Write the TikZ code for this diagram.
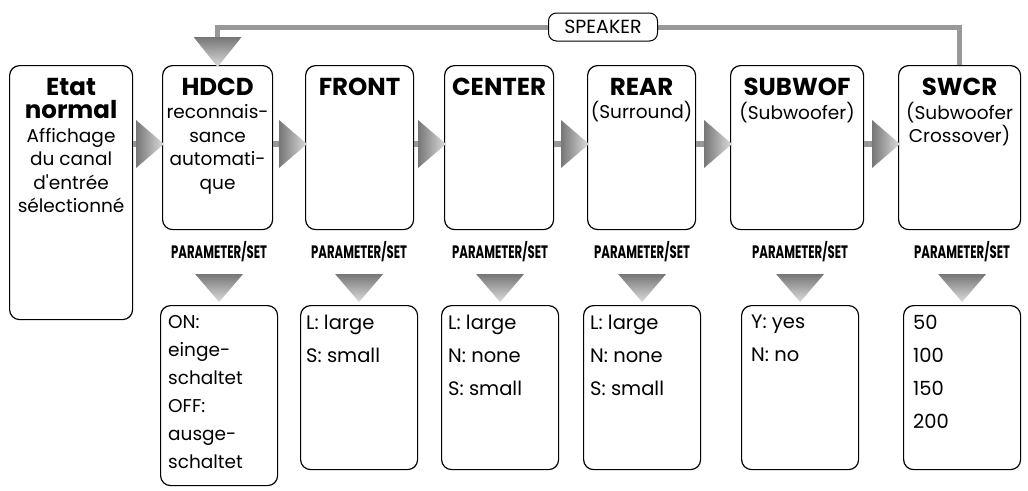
\documentclass[tikz,border=0pt]{standalone}
\usepackage{fontspec}
\usepackage{graphicx}
\setmainfont{Poppins}
\usetikzlibrary{calc}
\definecolor{lg}{RGB}{152,152,152}
\definecolor{tdark}{RGB}{118,118,118}
\definecolor{tlight}{RGB}{220,220,220}
\newcommand\HeadW[1]{{\fontsize{24.5}{23.5}\selectfont\bfseries #1}}
\newcommand\ParSetLbl{\scalebox{0.65}[1]{\fontsize{18}{18}\selectfont\bfseries PARAMETER/SET}}
\newcommand\DownArr[1]{\shade[top color=tdark,bottom color=tlight] ($(#1.north)+(0,-3)$) -- ++(-24,-28) -- ++(48,0) -- cycle;}
\newcommand\RightArr[2]{%
  \coordinate (T#2) at ($(#2.north west)+(2,79)$);
  \draw[conn,line width=6pt] (#1.east |- T#2) -- ++(10,0);
  \shade[left color=tdark,right color=tlight] (T#2) -- ++(-28,-24) -- ++(0,48) -- cycle;}
\begin{document}
\begin{tikzpicture}[x=1pt,y=-1pt,
  box/.style={draw=black,line width=1.2pt,rounded corners=10pt,inner sep=0pt,anchor=north west},
  headtxt/.style={anchor=north,inner sep=0pt,align=center,font=\fontsize{18.5}{23.4}\selectfont},
  opttxt/.style={anchor=north west,inner sep=0pt,align=left,font=\fontsize{19.5}{33}\selectfont},
  parlbl/.style={inner sep=0pt},
  conn/.style={draw=lg,line width=5pt,line cap=butt,line join=miter},
]
\useasboundingbox (0,0) rectangle (1028,490);

% top boxes
\node[box,minimum width=123pt,minimum height=254pt] (etat) at (9,65) {};
\node[box,minimum width=110pt,minimum height=164pt] (hdcd) at (162,65) {};
\node[box,minimum width=108pt,minimum height=164pt] (front) at (305,65) {};
\node[box,minimum width=109pt,minimum height=164pt] (center) at (444,65) {};
\node[box,minimum width=108pt,minimum height=164pt] (rear) at (587,65) {};
\node[box,minimum width=133pt,minimum height=164pt] (subwof) at (730,65) {};
\node[box,minimum width=122pt,minimum height=164pt] (swcr) at (898,65) {};

% lower boxes
\node[box,minimum width=117pt,minimum height=180pt] (hdcdP) at (160,305) {};
\node[box,minimum width=117pt,minimum height=164pt] (frontP) at (300,305) {};
\node[box,minimum width=117pt,minimum height=164pt] (centerP) at (441,305) {};
\node[box,minimum width=117pt,minimum height=164pt] (rearP) at (583,305) {};
\node[box,minimum width=117pt,minimum height=164pt] (subwofP) at (741,305) {};
\node[box,minimum width=117pt,minimum height=164pt] (swcrP) at (903,305) {};

% top texts
\node[headtxt] (etatT) at ($(etat.north)+(0,13)$) {\HeadW{Etat}\\\HeadW{normal}\\Affichage\\du canal\\d\textquotesingle entrée\\sélectionné};
\node[headtxt] (hdcdT) at ($(hdcd.north)+(0,13)$) {\HeadW{HDCD}\\reconnais-\\sance\\automati-\\que};
\node[headtxt] (frontT) at ($(front.north)+(0,13)$) {\HeadW{FRONT}};
\node[headtxt] (centerT) at ($(center.north)+(0,13)$) {\HeadW{CENTER}};
\node[headtxt] (rearT) at ($(rear.north)+(0,13)$) {\HeadW{REAR}\\(Surround)};
\node[headtxt] (subwofT) at ($(subwof.north)+(0,13)$) {\HeadW{SUBWOF}\\(Subwoofer)};
\node[headtxt] (swcrT) at ($(swcr.north)+(0,13)$) {\HeadW{SWCR}\\(Subwoofer\\Crossover)};

% lower texts
\node[opttxt,font=\fontsize{18.5}{28}\selectfont] (hdcdO) at ($(hdcdP.north west)+(8,10)$) {ON:\\einge-\\schaltet\\OFF:\\ausge-\\schaltet};
\node[opttxt] (frontO) at ($(frontP.north west)+(6,10)$) {L: large\\S: small};
\node[opttxt] (centerO) at ($(centerP.north west)+(7,10)$) {L: large\\N: none\\S: small};
\node[opttxt] (rearO) at ($(rearP.north west)+(7,10)$) {L: large\\N: none\\S: small};
\node[opttxt] (subwofO) at ($(subwofP.north west)+(10,10)$) {Y: yes\\N: no};
\node[opttxt] (swcrO) at ($(swcrP.north west)+(10,10)$) {50\\100\\150\\200};

% PARAMETER/SET labels and down arrows
\foreach \b in {hdcd,front,center,rear,subwof,swcr}{
  \node[parlbl] (\b L) at (\b P.north |- 0,252) {\ParSetLbl};
  \DownArr{\b P}
}

% right arrows
\RightArr{etat}{hdcd}
\RightArr{hdcd}{front}
\RightArr{front}{center}
\RightArr{center}{rear}
\RightArr{rear}{subwof}
\RightArr{subwof}{swcr}

% speaker loop
\draw[conn] (swcr.north) |- ($(hdcd.north)+(0,-38)$) -- ++(0,12);
\shade[top color=tdark,bottom color=tlight] ($(hdcd.north)+(0,2)$) -- ++(-24,-30) -- ++(48,0) -- cycle;
\node[draw=black,fill=white,rounded corners=8pt,line width=1pt,minimum width=109pt,minimum height=28pt,inner sep=0pt,font=\fontsize{19}{19}\selectfont] (spk) at (603,27) {SPEAKER};
\end{tikzpicture}
\end{document}
